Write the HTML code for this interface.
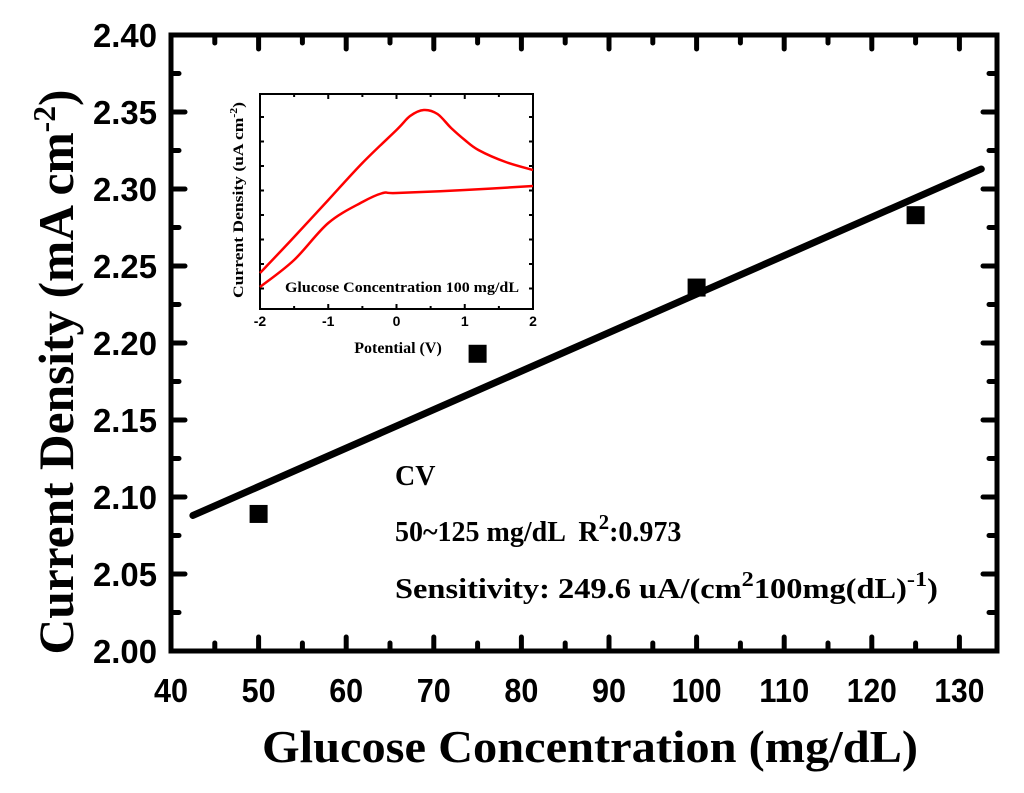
<!DOCTYPE html>
<html><head><meta charset="utf-8"><style>html,body{margin:0;padding:0;background:#fff}svg{display:block}</style></head>
<body>
<svg id="chart" width="1024" height="793" viewBox="0 0 1024 793" xmlns="http://www.w3.org/2000/svg">
<g id="main"></g>
<g id="inset"></g>
<text x="395" y="485" font-family="Liberation Serif, serif" font-weight="bold" font-size="28">CV</text>
<text x="395" y="541" font-family="Liberation Serif, serif" font-weight="bold" font-size="28" xml:space="preserve">50~125 mg/dL  R<tspan dy="-12" font-size="21">2</tspan><tspan dy="12">:0.973</tspan></text>
<text x="395" y="598" font-family="Liberation Serif, serif" font-weight="bold" font-size="28" textLength="543" lengthAdjust="spacingAndGlyphs">Sensitivity: 249.6 uA/(cm<tspan dy="-12" font-size="21">2</tspan><tspan dy="12">100mg(dL)</tspan><tspan dy="-12" font-size="21">-1</tspan><tspan dy="12">)</tspan></text>
<text x="590" y="762" text-anchor="middle" textLength="656" lengthAdjust="spacingAndGlyphs" font-family="Liberation Serif, serif" font-weight="bold" font-size="46">Glucose Concentration (mg/dL)</text>
<text transform="translate(73,372) rotate(-90)" text-anchor="middle" textLength="565" lengthAdjust="spacingAndGlyphs" font-family="Liberation Serif, serif" font-weight="bold" font-size="50">Current Density (mA cm<tspan dy="-18" font-size="32">-2</tspan><tspan dy="18">)</tspan></text>
</svg>
<script>
const xTicks=[40,50,60,70,80,90,100,110,120,130];
const yTicks=[2.00,2.05,2.10,2.15,2.20,2.25,2.30,2.35,2.40];
const yTickLabels=["2.00","2.05","2.10","2.15","2.20","2.25","2.30","2.35","2.40"];
const concentrations=[50,75,100,125];
const currentDensity=[2.089,2.193,2.236,2.283];
const fitX=[42.5,132.5];
const fitY=[2.088,2.313];
const insetXTicks=[-2,-1,0,1,2];
const insetUpperX=[-2,-1.5,-1,-0.5,0,0.2,0.4,0.6,0.8,1.0,1.2,1.6,2];
const insetUpperY=[36,72,109,146,179,193,199,195,181,169,159,147,139];
const insetLowerX=[-2,-1.5,-1,-0.5,-0.2,0,1,2];
const insetLowerY=[22,49,86,107,116,116,119,123];

const NS="http://www.w3.org/2000/svg";
function mk(parent,tag,attrs){const e=document.createElementNS(NS,tag);for(const k in attrs)e.setAttribute(k,attrs[k]);parent.appendChild(e);return e;}
const L=171,R=997,T=35,B=651;
const xs=v=>L+(v-40)*8.76;
const ys=v=>B-(v-2.0)/0.4*(B-T);
const main=document.getElementById('main');
for(let v=40;v<=134;v+=5){const maj=v%10===0;const len=maj?14:8;const x=xs(v);
 let t=mk(main,'line',{x1:x,x2:x,y1:B,y2:B-len,stroke:'#000','stroke-width':5,'stroke-linecap':'round'});
 
 t=mk(main,'line',{x1:x,x2:x,y1:T,y2:T+len,stroke:'#000','stroke-width':5,'stroke-linecap':'round'});
 }
for(let i=0;i<=16;i++){const v=2+i*0.025;const maj=i%2===0;const len=maj?14:8;const y=ys(v);
 let t=mk(main,'line',{x1:L,x2:L+len,y1:y,y2:y,stroke:'#000','stroke-width':5,'stroke-linecap':'round'});
 
 t=mk(main,'line',{x1:R,x2:R-len,y1:y,y2:y,stroke:'#000','stroke-width':5,'stroke-linecap':'round'});
 }
const frame=mk(main,'rect',{x:L,y:T,width:R-L,height:B-T,fill:'none',stroke:'#000','stroke-width':5});

xTicks.forEach(v=>{const t=mk(main,'text',{x:xs(v),y:702,'text-anchor':'middle','font-family':'Liberation Sans, sans-serif','font-weight':'bold','font-size':33,textLength:v>=100?50:34,lengthAdjust:'spacingAndGlyphs'});t.textContent=v;
 });
yTicks.forEach((v,i)=>{const t=mk(main,'text',{x:157,y:ys(v)+12,'text-anchor':'end','font-family':'Liberation Sans, sans-serif','font-weight':'bold','font-size':33,textLength:64,lengthAdjust:'spacingAndGlyphs'});t.textContent=yTickLabels[i];
 });
const fit=mk(main,'line',{x1:xs(fitX[0]),y1:ys(fitY[0]),x2:xs(fitX[1]),y2:ys(fitY[1]),stroke:'#000','stroke-width':7,'stroke-linecap':'round'});

concentrations.forEach((c,i)=>{const r=mk(main,'rect',{x:xs(c)-9,y:ys(currentDensity[i])-9,width:18,height:18,fill:'#000'});
 });

const IL=260,IR=533,IT=94,IB=309;
const ixs=v=>IL+(v+2)/4*(IR-IL);
const iys=v=>IB-v/215*(IB-IT);
const inset=document.getElementById('inset');
const bg=mk(inset,'rect',{x:IL,y:IT,width:IR-IL,height:IB-IT,fill:'#fff',stroke:'#000','stroke-width':2});

for(let v=-2;v<=2;v+=0.5){const x=ixs(v);const len=Number.isInteger(v)?5:3;
 let t=mk(inset,'line',{x1:x,x2:x,y1:IB,y2:IB-len,stroke:'#000','stroke-width':2});
 
 t=mk(inset,'line',{x1:x,x2:x,y1:IT,y2:IT+len,stroke:'#000','stroke-width':2});
 }
for(let y=IT+23;y<IB;y+=24.5){
 let t=mk(inset,'line',{x1:IL,x2:IL+4,y1:y,y2:y,stroke:'#000','stroke-width':2});
 
 t=mk(inset,'line',{x1:IR,x2:IR-4,y1:y,y2:y,stroke:'#000','stroke-width':2});
 }
insetXTicks.forEach(v=>{const t=mk(inset,'text',{x:ixs(v),y:326,'text-anchor':'middle','font-family':'Liberation Sans, sans-serif','font-weight':'bold','font-size':14});t.textContent=v;
 });
function pathOf(xa,ya){const p=xa.map((x,i)=>[ixs(x),iys(ya[i])]);let d='M'+p[0][0].toFixed(1)+','+p[0][1].toFixed(1);
 for(let i=0;i<p.length-1;i++){const p0=p[Math.max(0,i-1)],p1=p[i],p2=p[i+1],p3=p[Math.min(p.length-1,i+2)];
  const c1=[p1[0]+(p2[0]-p0[0])/6,p1[1]+(p2[1]-p0[1])/6],c2=[p2[0]-(p3[0]-p1[0])/6,p2[1]-(p3[1]-p1[1])/6];
  d+=' C'+c1.map(n=>n.toFixed(1)).join(',')+' '+c2.map(n=>n.toFixed(1)).join(',')+' '+p2.map(n=>n.toFixed(1)).join(',');}
 return d;}
const up=mk(inset,'path',{d:pathOf(insetUpperX,insetUpperY),fill:'none',stroke:'#f00','stroke-width':2.5,'stroke-linejoin':'round'});

const lo=mk(inset,'path',{d:pathOf(insetLowerX,insetLowerY),fill:'none',stroke:'#f00','stroke-width':2.5,'stroke-linejoin':'round'});

let t=mk(inset,'text',{x:402,y:292,'text-anchor':'middle','font-family':'Liberation Serif, serif','font-weight':'bold','font-size':15,textLength:234,lengthAdjust:'spacingAndGlyphs'});t.textContent='Glucose Concentration 100 mg/dL';

t=mk(inset,'text',{x:398,y:353,'text-anchor':'middle','font-family':'Liberation Serif, serif','font-weight':'bold','font-size':16});t.textContent='Potential (V)';

t=mk(inset,'text',{transform:'translate(243,200) rotate(-90)','text-anchor':'middle','font-family':'Liberation Serif, serif','font-weight':'bold','font-size':15,textLength:196,lengthAdjust:'spacingAndGlyphs'});t.innerHTML='Current Density  (uA cm<tspan dy="-6" font-size="10">-2</tspan><tspan dy="6">)</tspan>';

</script>
</body></html>
